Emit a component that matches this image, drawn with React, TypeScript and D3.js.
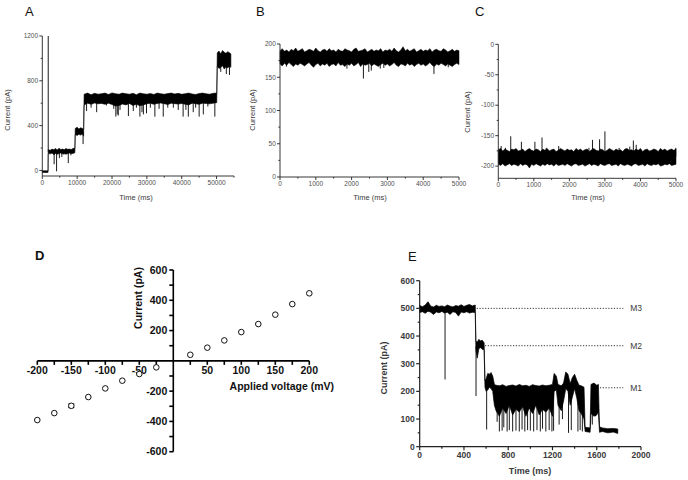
import React from 'react';
import * as d3 from 'd3';

const FONT = 'Arial, "Liberation Sans", Helvetica, sans-serif';

// ===== Panel A: current trace envelope (time ms, low/high pA) =====
const aTimes = [0, 1650, 1700, 2300, 2800, 3300, 3800, 4300, 4800, 5300, 5800, 6300, 6800, 7300, 7800, 8300, 8800, 9350,
  9450, 10000, 10500, 11000, 11500, 11850,
  12000, 13000, 14000, 15000, 16000, 17000, 18000, 19000, 20000, 21000, 22000, 23000, 24000, 25000, 26000, 27000, 28000, 29000, 30000,
  31000, 32000, 33000, 34000, 35000, 36000, 37000, 38000, 39000, 40000, 41000, 42000, 43000, 44000, 45000, 46000, 47000, 48000, 49000, 50050,
  50200, 50700, 51200, 51700, 52200, 52700, 53200, 53700, 54100];
const aLow = [-18, -18, 150, 148, 155, 140, 152, 145, 150, 155, 148, 152, 145, 150, 155, 150, 152, 158,
  320, 312, 322, 315, 325, 305,
  585, 600, 590, 602, 595, 598, 590, 600, 588, 575, 580, 592, 585, 598, 580, 590, 578, 585, 595,
  600, 590, 598, 602, 595, 588, 600, 596, 592, 598, 590, 585, 600, 595, 590, 600, 598, 594, 600, 605,
  930, 910, 920, 935, 905, 925, 915, 930, 920];
const aHigh = [-4, -4, 185, 180, 190, 185, 195, 182, 198, 186, 190, 185, 195, 188, 190, 186, 195, 200,
  375, 385, 370, 380, 375, 370,
  680, 690, 675, 688, 680, 685, 690, 678, 692, 685, 680, 690, 685, 680, 688, 676, 690, 684, 680,
  686, 678, 690, 684, 680, 686, 690, 682, 688, 680, 685, 690, 682, 678, 686, 690, 684, 680, 688, 690,
  1050, 1065, 1040, 1070, 1055, 1045, 1060, 1050, 1040];
const aSpikeTimes = [1700, 3400, 4100, 4900, 5600, 6200, 7450, 8200, 11700, 12700, 14000, 15600, 18400, 20500, 21100, 21500, 21800,
  22300, 24700, 26100, 27000, 28000, 28600, 29000, 29900, 31000, 32300, 33500, 34700, 36000, 37600, 39000, 40400, 41200, 41900,
  43300, 44000, 45000, 46200, 47500, 49500, 51200, 52800, 53700];
const aSpikeValues = [1200, 55, -8, 110, 120, 140, 65, 135, 235, 530, 560, 520, 580, 550, 480, 500, 490,
  540, 485, 530, 560, 480, 520, 500, 510, 560, 480, 550, 480, 560, 560, 540, 480, 540, 480,
  520, 560, 480, 500, 570, 480, 880, 860, 852];
const aXMajor = [0, 10000, 20000, 30000, 40000, 50000];
const aXMinor = [5000, 15000, 25000, 35000, 45000, 55000];
const aYMajor = [0, 400, 800, 1200];
const aYMinor = [200, 600, 1000];

// ===== Panel B =====
const bTimes = [0, 62.5, 125, 187.5, 250, 312.5, 375, 437.5, 500, 562.5, 625, 687.5, 750, 812.5, 875, 937.5, 1000, 1062.5, 1125, 1187.5,
  1250, 1312.5, 1375, 1437.5, 1500, 1562.5, 1625, 1687.5, 1750, 1812.5, 1875, 1937.5, 2000, 2062.5, 2125, 2187.5, 2250, 2312.5, 2375, 2437.5,
  2500, 2562.5, 2625, 2687.5, 2750, 2812.5, 2875, 2937.5, 3000, 3062.5, 3125, 3187.5, 3250, 3312.5, 3375, 3437.5, 3500, 3562.5, 3625, 3687.5,
  3750, 3812.5, 3875, 3937.5, 4000, 4062.5, 4125, 4187.5, 4250, 4312.5, 4375, 4437.5, 4500, 4562.5, 4625, 4687.5, 4750, 4812.5, 4875, 4937.5, 5000];
const bHigh = [190, 193, 189, 191, 188, 192, 190, 194, 189, 191, 193, 188, 190, 192, 191, 189, 194, 190, 188, 191,
  192, 189, 193, 190, 191, 188, 192, 190, 189, 193, 191, 190, 188, 192, 194, 189, 190, 191, 193, 188,
  190, 192, 189, 191, 190, 193, 188, 191, 190, 192, 189, 194, 190, 188, 191, 196, 190, 192, 189, 191,
  193, 188, 190, 192, 189, 191, 190, 193, 188, 191, 192, 190, 189, 193, 191, 188, 190, 192, 189, 191, 190];
const bLow = [170, 167, 171, 168, 172, 169, 166, 170, 168, 171, 169, 167, 170, 172, 168, 165, 169, 171, 167, 170,
  168, 171, 166, 169, 170, 167, 172, 168, 169, 166, 170, 168, 171, 167, 169, 172, 166, 170, 168, 169,
  171, 167, 170, 168, 166, 169, 171, 168, 170, 167, 169, 172, 168, 166, 170, 169, 167, 171, 168, 170,
  166, 169, 171, 168, 170, 167, 169, 172, 168, 166, 170, 168, 171, 169, 167, 170, 168, 166, 169, 171, 169];
const bSpikeTimes = [180, 1870, 2330, 2480, 2550, 2800, 2900, 4300, 4700];
const bSpikeValues = [166, 163, 148, 158, 160, 163, 164, 155, 165];
const bXMajor = [0, 1000, 2000, 3000, 4000, 5000];
const bXMinor = [500, 1500, 2500, 3500, 4500];
const bYMajor = [0, 50, 100, 150, 200];
const bYMinor = [25, 75, 125, 175];

// ===== Panel C =====
const cTimes = bTimes;
const cHigh = [-173, -171, -175, -172, -174, -176, -172, -173, -171, -175, -174, -172, -176, -173, -171, -174, -175, -172, -173, -176,
  -172, -174, -171, -175, -173, -172, -176, -174, -171, -173, -175, -172, -174, -173, -176, -171, -174, -172, -175, -173,
  -172, -176, -173, -171, -174, -175, -172, -173, -176, -174, -171, -173, -175, -172, -174, -173, -176, -172, -171, -174,
  -173, -175, -172, -174, -171, -176, -173, -172, -175, -174, -172, -173, -176, -171, -174, -172, -175, -173, -172, -174, -172];
const cLow = [-197, -199, -196, -200, -198, -196, -199, -197, -198, -200, -196, -199, -197, -198, -203, -197, -199, -196, -198, -200,
  -197, -199, -196, -198, -197, -200, -196, -199, -198, -197, -199, -196, -198, -200, -197, -196, -199, -198, -197, -200,
  -198, -196, -199, -197, -198, -200, -196, -198, -199, -197, -196, -199, -198, -197, -200, -196, -198, -199, -197, -198,
  -200, -197, -196, -199, -198, -197, -200, -196, -198, -199, -197, -198, -196, -200, -199, -197, -198, -196, -199, -198, -197];
const cSpikeTimes = [80, 200, 350, 650, 1030, 1230, 1350, 1700, 2550, 2650, 2850, 3000, 3400, 3700, 3800, 3880, 4995];
const cSpikeValues = [-167, -170, -151, -160, -160, -153, -170, -167, -170, -157, -156, -143, -170, -168, -158, -165, -170];
const cXMajor = [0, 1000, 2000, 3000, 4000, 5000];
const cXMinor = [500, 1500, 2500, 3500, 4500];
const cYMajor = [0, -50, -100, -150, -200];
const cYMinor = [-25, -75, -125, -175];

// ===== Panel D: I-V relation =====
const dVoltage = [-200, -175, -150, -125, -100, -75, -50, -25, 25, 50, 75, 100, 125, 150, 175, 200];
const dCurrent = [-391, -345, -297, -239, -182, -131, -87, -43, 40, 87, 135, 190, 243, 305, 375, 446];
const dError = [0, 0, 12, 0, 0, 0, 0, 0, 0, 0, 0, 0, 0, 0, 0, 0];
const dXLabels = [-200, -150, -100, -50, 50, 100, 150, 200];
const dXMinor = [-175, -125, -75, -25, 25, 75, 125, 175];
const dYLabels = [600, 400, 200, -200, -400, -600];
const dYMinor = [500, 300, 100, -100, -300, -500];

// ===== Panel E =====
const eTimes = [0, 25, 50, 75, 100, 125, 150, 175, 200, 225, 250, 275, 300, 325, 350, 375, 400, 425, 450, 475, 502,
  508, 520, 535, 550, 565, 582,
  590, 600, 615, 630, 645, 660, 675,
  690, 720, 750, 780, 810, 840, 870, 900, 930, 960, 990, 1020, 1050, 1080, 1110, 1140, 1170, 1200,
  1215, 1235, 1250, 1280, 1300, 1320, 1340, 1360, 1380, 1400, 1420, 1440, 1460, 1485,
  1495, 1540, 1548, 1575, 1600, 1615, 1625, 1650, 1700, 1750, 1790];
const eLow = [485, 488, 482, 490, 486, 478, 487, 484, 489, 483, 486, 478, 488, 485, 472, 487, 484, 488, 483, 486, 485,
  350, 320, 355, 358, 352, 350,
  215, 200, 205, 215, 210, 200, 150,
  130, 110, 140, 120, 150, 115, 135, 125, 145, 110, 140, 120, 150, 115, 135, 125, 140, 110,
  200, 205, 150, 130, 165, 210, 200, 150, 180, 210, 175, 130, 120, 100,
  55, 52, 120, 110, 115, 125, 52, 55, 50, 53, 48];
const eHigh = [510, 506, 512, 524, 508, 505, 511, 507, 509, 506, 512, 508, 505, 510, 508, 513, 507, 511, 514, 509, 512,
  380, 378, 388, 382, 385, 376,
  240, 245, 265, 262, 268, 255, 225,
  222, 220, 224, 218, 221, 223, 219, 225, 220, 222, 218, 224, 221, 219, 223, 220, 222, 225,
  265, 255, 225, 220, 230, 270, 262, 228, 250, 262, 240, 222, 220, 215,
  70, 68, 225, 230, 222, 225, 72, 68, 65, 66, 64];
const eSpikeTimes = [229, 509, 605, 700, 720, 745, 760, 790, 810, 840, 870, 900, 925, 950, 975, 1000, 1030, 1060, 1090, 1110,
  1140, 1170, 1195, 1210, 1260, 1290, 1345, 1370, 1430, 1450, 1470, 1560, 1590];
const eSpikeValues = [243, 183, 62, 90, 55, 58, 70, 55, 60, 55, 58, 55, 62, 55, 60, 58, 55, 60, 55, 65,
  55, 60, 55, 58, 80, 100, 50, 60, 55, 60, 55, 80, 110];
const eLevelNames = ['M3', 'M2', 'M1'];
const eLevelValues = [500, 365, 213];
const eLevelStart = [515, 590, 1629];
const eLevelEnd = 1840;
const eXMajor = [0, 400, 800, 1200, 1600, 2000];
const eXMinor = [200, 600, 1000, 1400, 1800];
const eYMajor = [0, 100, 200, 300, 400, 500, 600];
const eYMinor = [50, 150, 250, 350, 450, 550];

type Scale = d3.ScaleLinear<number, number>;

function Trace({ x, y, times, lows, highs, spikeTimes, spikeValues, sw = 0.6 }: {
  x: Scale; y: Scale; times: number[]; lows: number[]; highs: number[];
  spikeTimes: number[]; spikeValues: number[]; sw?: number;
}) {
  const idx = times.map((_, i) => i);
  const area = d3.area<number>()
    .x(i => x(times[i]))
    .y0(i => y(lows[i]))
    .y1(i => y(highs[i]));
  const mid = d3.scaleLinear().domain(times).range(times.map((_, i) => (lows[i] + highs[i]) / 2)).clamp(true);
  return (
    <g>
      <path d={area(idx) || ''} fill="#000" stroke="#000" strokeWidth={sw} strokeLinejoin="miter" />
      {spikeTimes.map((t, i) => (
        <line key={i} x1={x(t)} x2={x(t)} y1={y(mid(t))} y2={y(spikeValues[i])} stroke="#000" strokeWidth={0.9} />
      ))}
    </g>
  );
}

type AxisStyle = {
  size: number; color: string; weight?: string | number; majLen: number; minLen: number;
  gap: number; stroke: string; sw: number;
};

function LeftAxis({ scale, x, top, bottom, majors, minors, labels, st }: {
  scale: Scale; x: number; top: number; bottom: number; majors: number[]; minors: number[]; labels?: number[]; st: AxisStyle;
}) {
  const lab = labels ?? majors;
  return (
    <g>
      <line x1={x} x2={x} y1={top} y2={bottom} stroke={st.stroke} strokeWidth={st.sw} />
      {majors.map(v => <line key={'M' + v} x1={x - st.majLen} x2={x} y1={scale(v)} y2={scale(v)} stroke={st.stroke} strokeWidth={st.sw} />)}
      {minors.map(v => <line key={'m' + v} x1={x - st.minLen} x2={x} y1={scale(v)} y2={scale(v)} stroke={st.stroke} strokeWidth={st.sw} />)}
      {lab.map(v => (
        <text key={'t' + v} x={x - st.majLen - st.gap} y={scale(v)} dy="0.35em" textAnchor="end"
          fontSize={st.size} fill={st.color} fontWeight={st.weight ?? 'normal'} fontFamily={FONT}>{String(v)}</text>
      ))}
    </g>
  );
}

function BottomAxis({ scale, y, left, right, majors, minors, labels, st }: {
  scale: Scale; y: number; left: number; right: number; majors: number[]; minors: number[]; labels?: number[]; st: AxisStyle;
}) {
  const lab = labels ?? majors;
  return (
    <g>
      <line x1={left} x2={right} y1={y} y2={y} stroke={st.stroke} strokeWidth={st.sw} />
      {majors.map(v => <line key={'M' + v} x1={scale(v)} x2={scale(v)} y1={y} y2={y + st.majLen} stroke={st.stroke} strokeWidth={st.sw} />)}
      {minors.map(v => <line key={'m' + v} x1={scale(v)} x2={scale(v)} y1={y} y2={y + st.minLen} stroke={st.stroke} strokeWidth={st.sw} />)}
      {lab.map(v => (
        <text key={'t' + v} x={scale(v)} y={y + st.majLen + st.gap + st.size * 0.72} textAnchor="middle"
          fontSize={st.size} fill={st.color} fontWeight={st.weight ?? 'normal'} fontFamily={FONT}>{String(v)}</text>
      ))}
    </g>
  );
}

function VLabel({ x, y, text, size, color, weight }: { x: number; y: number; text: string; size: number; color: string; weight?: string | number }) {
  return (
    <text transform={`translate(${x},${y}) rotate(-90)`} textAnchor="middle" fontSize={size} fill={color}
      fontWeight={weight ?? 'normal'} fontFamily={FONT}>{text}</text>
  );
}

const smallSt: AxisStyle = { size: 6.5, color: '#505050', majLen: 3, minLen: 1.6, gap: 1.2, stroke: '#222', sw: 0.9 };

export default function App() {
  // Panel A
  const ax = d3.scaleLinear().domain([0, 55000]).range([42.3, 234]);
  const ay = d3.scaleLinear().domain([-50, 1200]).range([176, 36]);
  // Panel B
  const bx = d3.scaleLinear().domain([0, 5000]).range([280, 459]);
  const by = d3.scaleLinear().domain([0, 200]).range([177, 44]);
  // Panel C
  const cx = d3.scaleLinear().domain([0, 5000]).range([498.3, 676]);
  const cy = d3.scaleLinear().domain([-220, 0]).range([178.3, 44.3]);
  // Panel D
  const dx = d3.scaleLinear().domain([-200, 200]).range([37.3, 309.3]);
  const dy = d3.scaleLinear().domain([-600, 600]).range([451.7, 270]);
  // Panel E
  const ex = d3.scaleLinear().domain([0, 2000]).range([419.7, 641]);
  const ey = d3.scaleLinear().domain([0, 600]).range([446.7, 280.7]);

  const dSt: AxisStyle = { size: 10.5, color: '#111', weight: 'bold', majLen: 4, minLen: 4, gap: 2, stroke: '#000', sw: 1.6 };
  const eSt: AxisStyle = { size: 8.5, color: '#3a3a3a', weight: 'bold', majLen: 3.5, minLen: 2, gap: 1.5, stroke: '#222', sw: 1.2 };

  return (
    <svg width={688} height={480} viewBox="0 0 688 480" style={{ position: 'absolute', left: 0, top: 0, background: '#fff' }}>
      <rect width={688} height={480} fill="#fff" />

      {/* Panel letters */}
      <text x={25} y={16} fontSize={13} fontFamily={FONT} fill="#111">A</text>
      <text x={256} y={16} fontSize={13} fontFamily={FONT} fill="#111">B</text>
      <text x={475} y={16} fontSize={13} fontFamily={FONT} fill="#111">C</text>
      <text x={35} y={260} fontSize={13} fontFamily={FONT} fill="#111" fontWeight="bold">D</text>
      <text x={408} y={261} fontSize={13} fontFamily={FONT} fill="#111">E</text>

      {/* ===== Panel A ===== */}
      <Trace x={ax} y={ay} times={aTimes} lows={aLow} highs={aHigh} spikeTimes={aSpikeTimes} spikeValues={aSpikeValues} sw={0.6} />
      <LeftAxis scale={ay} x={42.3} top={36} bottom={176} majors={aYMajor} minors={aYMinor} st={smallSt} />
      <BottomAxis scale={ax} y={176} left={42.3} right={ax(55000)} majors={aXMajor} minors={aXMinor} st={smallSt} />
      <VLabel x={9.5} y={110} text="Current (pA)" size={7.5} color="#3a3a3a" />
      <text x={136} y={200} textAnchor="middle" fontSize={7.5} fill="#3a3a3a" fontFamily={FONT}>Time (ms)</text>

      {/* ===== Panel B ===== */}
      <Trace x={bx} y={by} times={bTimes} lows={bLow} highs={bHigh} spikeTimes={bSpikeTimes} spikeValues={bSpikeValues} sw={0.5} />
      <LeftAxis scale={by} x={280} top={44} bottom={177} majors={bYMajor} minors={bYMinor} st={smallSt} />
      <BottomAxis scale={bx} y={177} left={280} right={459} majors={bXMajor} minors={bXMinor} st={smallSt} />
      <VLabel x={254.5} y={110} text="Current (pA)" size={7.5} color="#3a3a3a" />
      <text x={370} y={200} textAnchor="middle" fontSize={7.5} fill="#3a3a3a" fontFamily={FONT}>Time (ms)</text>

      {/* ===== Panel C ===== */}
      <Trace x={cx} y={cy} times={cTimes} lows={cLow} highs={cHigh} spikeTimes={cSpikeTimes} spikeValues={cSpikeValues} sw={0.5} />
      <LeftAxis scale={cy} x={498.3} top={44.3} bottom={178.3} majors={cYMajor} minors={cYMinor} st={smallSt} />
      <BottomAxis scale={cx} y={178.3} left={498.3} right={676} majors={cXMajor} minors={cXMinor} st={smallSt} />
      <VLabel x={470} y={112} text="Current (pA)" size={7.5} color="#3a3a3a" />
      <text x={588} y={200} textAnchor="middle" fontSize={7.5} fill="#3a3a3a" fontFamily={FONT}>Time (ms)</text>

      {/* ===== Panel D ===== */}
      <LeftAxis scale={dy} x={dx(0)} top={dy(600)} bottom={dy(-600)} majors={dYLabels} minors={dYMinor} st={dSt} />
      <BottomAxis scale={dx} y={dy(0)} left={dx(-200)} right={dx(200)} majors={dXLabels} minors={dXMinor} st={dSt} />
      {dVoltage.map((v, i) => (
        <g key={'d' + i}>
          {dError[i] > 0 && (
            <g stroke="#000" strokeWidth={1}>
              <line x1={dx(v)} x2={dx(v)} y1={dy(dCurrent[i] - dError[i])} y2={dy(dCurrent[i] + dError[i])} />
              <line x1={dx(v) - 3} x2={dx(v) + 3} y1={dy(dCurrent[i] - dError[i])} y2={dy(dCurrent[i] - dError[i])} />
              <line x1={dx(v) - 3} x2={dx(v) + 3} y1={dy(dCurrent[i] + dError[i])} y2={dy(dCurrent[i] + dError[i])} />
            </g>
          )}
          <circle cx={dx(v)} cy={dy(dCurrent[i])} r={2.8} fill="#fff" stroke="#111" strokeWidth={1} />
        </g>
      ))}
      <text x={334} y={390} textAnchor="end" fontSize={10.5} fontWeight="bold" fill="#111" fontFamily={FONT}>Applied voltage (mV)</text>
      <VLabel x={142} y={298} text="Current (pA)" size={10.5} color="#111" weight="bold" />

      {/* ===== Panel E ===== */}
      {eLevelValues.map((v, i) => (
        <g key={'lv' + i}>
          <line x1={ex(eLevelStart[i])} x2={ex(eLevelEnd)} y1={ey(v)} y2={ey(v)} stroke="#333" strokeWidth={1} strokeDasharray="1.2,1.6" />
          <text x={ex(eLevelEnd) + 7} y={ey(v)} dy="0.35em" fontSize={8.5} fill="#3a3a3a" fontFamily={FONT}>{eLevelNames[i]}</text>
        </g>
      ))}
      <Trace x={ex} y={ey} times={eTimes} lows={eLow} highs={eHigh} spikeTimes={eSpikeTimes} spikeValues={eSpikeValues} sw={0.7} />
      <LeftAxis scale={ey} x={419.7} top={280.7} bottom={446.7} majors={eYMajor} minors={eYMinor} st={eSt} />
      <BottomAxis scale={ex} y={446.7} left={419.7} right={641} majors={eXMajor} minors={eXMinor} st={eSt} />
      <VLabel x={387} y={368} text="Current (pA)" size={9} color="#3a3a3a" weight="bold" />
      <text x={530} y={474} textAnchor="middle" fontSize={9} fontWeight="bold" fill="#3a3a3a" fontFamily={FONT}>Time (ms)</text>
    </svg>
  );
}
